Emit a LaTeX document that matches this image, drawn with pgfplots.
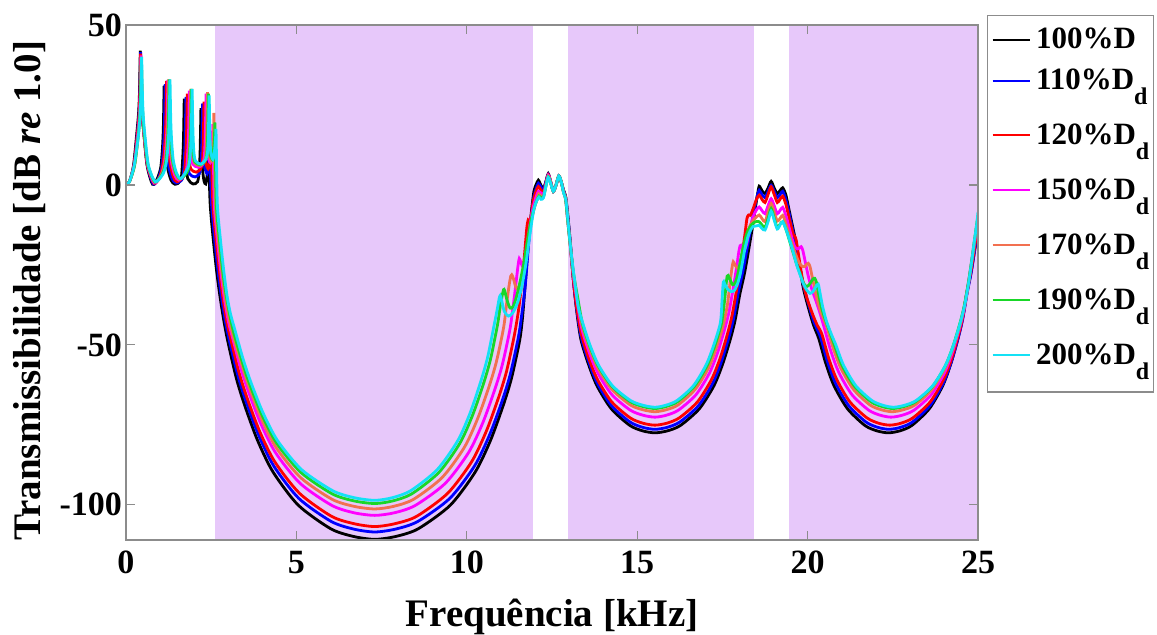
\documentclass[border=0pt]{standalone}
\usepackage{fontspec}
\setmainfont{Liberation Serif}
\usepackage{pgfplots}
\pgfplotsset{compat=1.18}
\definecolor{bandcol}{RGB}{231,200,250}
\definecolor{axgray}{RGB}{140,140,140}
\definecolor{cBlue}{RGB}{0,0,255}
\definecolor{cRed}{RGB}{255,0,0}
\definecolor{cMag}{RGB}{255,0,255}
\definecolor{cOra}{RGB}{242,112,80}
\definecolor{cGre}{RGB}{25,215,40}
\definecolor{cCya}{RGB}{20,225,245}
\newcommand{\dsub}{\raisebox{-7.5pt}{\fontsize{12}{12}\selectfont d}}
\begin{document}
\begin{tikzpicture}
\useasboundingbox (-63pt,-47.5pt) rectangle (515.5pt,270pt);
\begin{axis}[
  scale only axis, width=426pt, height=257.5pt,
  xmin=0, xmax=25, ymin=-111, ymax=50,
  xtick={0,5,10,15,20,25}, ytick={-100,-50,0,50},
  axis on top,
  tick align=inside, major tick length=4.5pt,
  axis line style={draw=axgray, line width=0.6pt},
  tick style={draw=axgray, line width=0.6pt},
  /pgf/number format/assume math mode=true,
  xticklabel style={font=\fontsize{17}{17}\selectfont\bfseries, yshift=-2pt},
  yticklabel style={font=\fontsize{17}{17}\selectfont\bfseries, xshift=1.5pt},
  xlabel={Frequência [kHz]},
  ylabel={Transmissibilidade [dB \textit{re} 1.0]},
  xlabel style={font=\fontsize{19.5}{20}\selectfont\bfseries, at={(axis description cs:0.5,-0.168)}, anchor=base},
  ylabel style={font=\fontsize{19.5}{20}\selectfont\bfseries, at={(axis description cs:-0.1,0.484)}, anchor=base},
  legend style={at={(rel axis cs:1,1)}, anchor=north west, xshift=4.5pt, yshift=5pt,
    draw=axgray, line width=0.6pt, fill=white,
    font=\fontsize{15.5}{15.5}\selectfont\bfseries,
    inner xsep=2pt, inner ysep=6.3pt, row sep=9.5pt,
    nodes={inner sep=0pt, text depth=}, cells={anchor=base west}},
  legend image code/.code={\draw[#1, line width=1pt] (0pt,4.6pt) -- (18.5pt,4.6pt); \path (21pt,0pt);},
  every axis plot/.append style={line width=1.4pt, no markers, smooth, tension=0.45},
]
\addplot[draw=none, fill=bandcol, forget plot, line width=0pt, sharp plot] coordinates {(2.6,-111) (11.95,-111) (11.95,50) (2.6,50)} -- cycle;
\addplot[draw=none, fill=bandcol, forget plot, line width=0pt, sharp plot] coordinates {(12.96,-111) (18.43,-111) (18.43,50) (12.96,50)} -- cycle;
\addplot[draw=none, fill=bandcol, forget plot, line width=0pt, sharp plot] coordinates {(19.44,-111) (25,-111) (25,50) (19.44,50)} -- cycle;

% 100% D (black)
\addplot[black] coordinates {
(0,0) (0.1,1) (0.22,6) (0.32,16.5) (0.37,22.5) (0.395,28.5) (0.41,36.5) (0.42,42) (0.43,36.5) (0.445,28.5) (0.47,22.5) (0.52,16.5) (0.62,6) (0.78,0.2)
(0.92,2) (1.02,5.5) (1.07,11.5) (1.095,17.5) (1.11,25.5) (1.12,31) (1.13,25.5) (1.145,17.5) (1.17,11.5) (1.22,5.5) (1.32,1.5) (1.44,0.2)
(1.61,1.5) (1.66,7.5) (1.685,13.5) (1.70,21.5) (1.71,27) (1.72,21.5) (1.735,13.5) (1.76,7.5) (1.81,2) (1.97,0.3)
(2.10,1) (2.15,4.5) (2.175,10.5) (2.19,18.5) (2.20,24) (2.21,18.5) (2.225,10.5) (2.25,4.5) (2.29,1.2) (2.34,0.3)
(2.38,3) (2.405,8) (2.42,12) (2.435,6) (2.47,-6) (2.56,-17) (2.66,-27) (2.76,-35) (2.88,-43) (3.0,-49.5) (3.237,-60.4) (3.476,-68.7) (3.858,-79.8) (4.312,-89.7) (5.053,-100.1) (6.009,-107.5) (6.679,-109.9) (7.3,-110.8) (7.914,-109.9) (8.574,-107.5) (9.518,-100.1) (10.25,-89.7) (10.698,-79.8) (11.076,-68.7) (11.312,-60.4) (11.548,-48.8) (11.63,-42) (11.70,-33) (11.80,-19) (11.90,-8) (11.97,-2) (12.03,0)
(12.1,1.5) (12.17,0) (12.25,-1.1) (12.32,1) (12.39,3.5) (12.46,1) (12.54,-2) (12.62,0) (12.70,2.8) (12.77,1) (12.84,-1.7) (12.90,-3.5)
(12.95,-8) (13.03,-17) (13.13,-30) (13.22,-39) (13.344,-48.1) (13.562,-55.8) (13.82,-62.8) (14.242,-70.0) (14.786,-75.2) (15.166,-76.9) (15.52,-77.5) (15.88,-76.9) (16.268,-75.2) (16.822,-70.0) (17.251,-62.8) (17.514,-55.8) (17.736,-48.1) (17.875,-42.2) (18.013,-34.1) (18.16,-27) (18.36,-14.6) (18.47,-7) (18.53,-3)
(18.58,-0.4) (18.66,-1.8) (18.75,-2.7) (18.84,-1) (18.93,1.1) (19.02,-1) (19.11,-2.7) (19.19,-1.8) (19.27,-0.9) (19.36,-3) (19.44,-7) (19.52,-11)
(19.6,-15) (19.68,-19.5) (19.78,-26) (19.87,-32) (20.0,-37.5) (20.17,-43.7) (20.33,-48.1) (20.534,-55.8) (20.776,-62.8) (21.172,-70.0) (21.682,-75.2) (22.039,-76.9) (22.37,-77.5) (22.702,-76.9) (23.059,-75.2) (23.569,-70.0) (23.964,-62.8) (24.206,-55.8) (24.41,-48.1) (24.538,-42.2) (24.665,-34.1) (24.8,-27) (24.9,-20.5) (25,-14)
};
\addlegendentry{100\%D}

% 110% Dd (blue)
\addplot[cBlue] coordinates {
(0,0) (0.1,1) (0.23,6) (0.33,16) (0.38,22) (0.405,28) (0.42,36) (0.43,41.5) (0.44,36) (0.455,28) (0.48,22) (0.53,16) (0.63,6) (0.8,0.3)
(0.95,2) (1.05,6) (1.10,12) (1.125,18) (1.14,26) (1.15,31.5) (1.16,26) (1.175,18) (1.20,12) (1.25,6) (1.35,2) (1.47,0.6)
(1.66,2) (1.71,8) (1.735,14) (1.75,22) (1.76,27.5) (1.77,22) (1.785,14) (1.81,8) (1.86,3.5) (2.03,2.5)
(2.15,3.5) (2.20,6) (2.225,12) (2.24,20) (2.25,25.5) (2.26,20) (2.275,12) (2.30,6) (2.38,3.5)
(2.42,6) (2.445,9) (2.46,12) (2.475,6) (2.51,-6) (2.60,-17) (2.70,-27) (2.80,-35) (2.92,-43) (3.04,-49) (3.271,-59.1) (3.508,-67.3) (3.887,-78.1) (4.338,-87.9) (5.072,-98.0) (6.02,-105.2) (6.684,-107.6) (7.3,-108.5) (7.908,-107.6) (8.564,-105.2) (9.5,-98.0) (10.225,-87.9) (10.67,-78.1) (11.044,-67.3) (11.278,-59.1) (11.512,-47.7) (11.6,-41.5) (11.71,-32) (11.81,-19) (11.9,-9) (11.97,-3.5) (12.04,-1)
(12.1,0.5) (12.17,-0.5) (12.25,-1.5) (12.32,1) (12.39,3.3) (12.46,1) (12.54,-2) (12.62,0) (12.70,2.8) (12.77,1) (12.84,-1.8) (12.9,-3.8)
(12.95,-8.5) (13.03,-17.5) (13.13,-30) (13.22,-38.5) (13.352,-47.4) (13.569,-55.0) (13.826,-61.9) (14.246,-69.0) (14.788,-74.1) (15.168,-75.8) (15.52,-76.4) (15.874,-75.8) (16.254,-74.1) (16.798,-69.0) (17.22,-61.9) (17.478,-55.0) (17.696,-47.4) (17.832,-41.6) (17.968,-33.6) (18.12,-26) (18.3,-15.5) (18.44,-7.5) (18.52,-3.5)
(18.58,-1.7) (18.66,-3) (18.75,-4) (18.84,-2) (18.93,-0.1) (19.02,-2) (19.11,-4) (19.19,-3) (19.27,-2) (19.36,-4.5) (19.44,-8) (19.52,-12)
(19.6,-16) (19.68,-20) (19.78,-26) (19.88,-31.5) (20.02,-37) (20.19,-43) (20.374,-47.4) (20.576,-55.0) (20.815,-61.9) (21.206,-69.0) (21.71,-74.1) (22.062,-75.8) (22.39,-76.4) (22.722,-75.8) (23.079,-74.1) (23.589,-69.0) (23.984,-61.9) (24.226,-55.0) (24.43,-47.4) (24.558,-41.6) (24.685,-33.6) (24.8,-27.5) (24.9,-20.5) (25,-13.5)
};
\addlegendentry{110\%D\dsub}

% 120% Dd (red)
\addplot[cRed] coordinates {
(0,0) (0.1,1) (0.23,6) (0.33,15.5) (0.38,21.5) (0.405,27.5) (0.42,35.5) (0.43,41) (0.44,35.5) (0.455,27.5) (0.48,21.5) (0.53,15.5) (0.63,6) (0.82,0.5)
(0.99,2.5) (1.09,7) (1.14,13) (1.165,19) (1.18,27) (1.19,32.5) (1.20,27) (1.215,19) (1.24,13) (1.29,7) (1.39,2.5) (1.5,1)
(1.70,3) (1.75,9) (1.775,15) (1.79,23) (1.80,28.5) (1.81,23) (1.825,15) (1.85,9) (1.9,5) (2.06,4)
(2.19,5) (2.24,7) (2.265,12.5) (2.28,20.5) (2.29,26) (2.30,20.5) (2.315,12.5) (2.34,7) (2.41,5)
(2.45,7) (2.475,9.5) (2.49,12) (2.50,15) (2.51,9) (2.55,-6) (2.64,-17) (2.74,-27) (2.84,-35) (2.96,-43) (3.08,-48.5) (3.305,-58.2) (3.54,-66.2) (3.916,-76.9) (4.363,-86.5) (5.091,-96.4) (6.031,-103.6) (6.689,-105.9) (7.3,-106.8) (7.892,-105.9) (8.529,-103.6) (9.439,-96.4) (10.144,-86.5) (10.576,-76.9) (10.94,-66.2) (11.168,-58.2) (11.395,-47.0) (11.52,-39) (11.62,-30) (11.70,-21) (11.76,-13.5) (11.80,-11) (11.84,-11.5) (11.89,-9.5) (11.95,-5) (12.03,-2)
(12.1,-0.5) (12.17,-1.5) (12.25,-2.5) (12.32,0.5) (12.39,3.2) (12.46,1) (12.54,-2) (12.62,0) (12.70,2.8) (12.77,1) (12.84,-2) (12.9,-4)
(12.95,-9) (13.03,-18) (13.13,-30) (13.22,-38) (13.36,-46.6) (13.576,-54.1) (13.833,-60.8) (14.251,-67.8) (14.791,-72.8) (15.169,-74.5) (15.52,-75.1) (15.866,-74.5) (16.238,-72.8) (16.77,-67.8) (17.183,-60.8) (17.435,-54.1) (17.648,-46.6) (17.781,-40.9) (17.914,-33.0) (18.05,-24) (18.16,-15.5) (18.22,-10.5) (18.27,-9.4) (18.32,-9.5) (18.4,-7.5) (18.5,-4.5)
(18.58,-3.2) (18.66,-4.5) (18.75,-5.5) (18.84,-3) (18.93,-0.6) (19.02,-3) (19.11,-5.5) (19.19,-4.5) (19.27,-3.5) (19.36,-6) (19.44,-9.5) (19.52,-13)
(19.58,-15.5) (19.63,-16.2) (19.67,-17.5) (19.75,-23) (19.85,-29.5) (19.97,-35) (20.15,-40.5) (20.28,-43.8) (20.418,-46.6) (20.617,-54.1) (20.854,-60.8) (21.24,-67.8) (21.738,-72.8) (22.086,-74.5) (22.41,-75.1) (22.739,-74.5) (23.093,-72.8) (23.599,-67.8) (23.991,-60.8) (24.232,-54.1) (24.434,-46.6) (24.561,-40.9) (24.687,-33.0) (24.8,-26.5) (24.9,-19.5) (25,-12.5)
};
\addlegendentry{120\%D\dsub}

% 150% Dd (magenta)
\addplot[cMag] coordinates {
(0,0) (0.1,1) (0.24,6) (0.34,15) (0.39,21) (0.415,27) (0.43,35) (0.44,40.5) (0.45,35) (0.465,27) (0.49,21) (0.54,15) (0.64,6) (0.83,0.6)
(1.03,3) (1.13,7.3) (1.18,13.3) (1.205,19.3) (1.22,27.3) (1.23,32.8) (1.24,27.3) (1.255,19.3) (1.28,13.3) (1.33,7.3) (1.43,3) (1.55,1.5)
(1.76,4) (1.81,10) (1.835,16) (1.85,24) (1.86,29.5) (1.87,24) (1.885,16) (1.91,10) (1.96,6.5) (2.12,5.5)
(2.25,6.5) (2.30,9) (2.325,15) (2.34,23) (2.35,28.5) (2.36,23) (2.375,15) (2.40,9) (2.47,7)
(2.50,9) (2.525,13) (2.54,16) (2.55,19) (2.56,13) (2.59,-6) (2.68,-17) (2.78,-27) (2.88,-35) (3.0,-42.5) (3.12,-47.5) (3.339,-56.3) (3.572,-64.0) (3.945,-74.4) (4.388,-83.7) (5.11,-93.3) (6.042,-100.2) (6.694,-102.5) (7.3,-103.3) (7.872,-102.5) (8.488,-100.2) (9.368,-93.3) (10.05,-83.7) (10.468,-74.4) (10.82,-64.0) (11.04,-56.3) (11.26,-45.5) (11.36,-38) (11.44,-31) (11.50,-25.5) (11.54,-23) (11.58,-24) (11.64,-25.5) (11.70,-23.5) (11.76,-19) (11.83,-14) (11.9,-9.5) (11.97,-6) (12.04,-3.5)
(12.1,-2) (12.17,-2.5) (12.25,-3) (12.32,0) (12.39,3) (12.46,1) (12.54,-2) (12.62,0) (12.70,2.8) (12.77,1) (12.84,-2.2) (12.9,-4.2)
(12.95,-10) (13.04,-19) (13.13,-28.5) (13.23,-36) (13.376,-45.0) (13.59,-52.3) (13.845,-58.8) (14.26,-65.6) (14.796,-70.4) (15.172,-72.0) (15.52,-72.6) (15.853,-72.0) (16.211,-70.4) (16.723,-65.6) (17.12,-58.8) (17.363,-52.3) (17.568,-45.0) (17.696,-39.6) (17.824,-31.9) (17.92,-25.5) (17.98,-21) (18.02,-19) (18.06,-18.8) (18.1,-19.8) (18.15,-20.3) (18.21,-18.5) (18.3,-14) (18.4,-10) (18.5,-7.8)
(18.58,-6.9) (18.66,-8) (18.75,-9) (18.84,-6.5) (18.93,-4.3) (19.02,-6.5) (19.11,-9) (19.19,-8) (19.27,-7) (19.36,-9.5) (19.45,-13) (19.55,-17) (19.63,-19.5) (19.70,-20) (19.75,-19.8) (19.81,-19.3) (19.86,-20.5) (19.93,-24) (20.02,-28.5) (20.12,-32.5) (20.254,-36.5) (20.376,-40.5) (20.498,-45.0) (20.693,-52.3) (20.925,-58.8) (21.303,-65.6) (21.791,-70.4) (22.133,-72.0) (22.45,-72.6) (22.775,-72.0) (23.125,-70.4) (23.625,-65.6) (24.013,-58.8) (24.25,-52.3) (24.45,-45.0) (24.575,-39.6) (24.7,-31.9) (24.8,-25) (24.9,-18) (25,-11)
};
\addlegendentry{150\%D\dsub}

% 170% Dd (orange)
\addplot[cOra] coordinates {
(0,0) (0.1,1) (0.25,6) (0.35,14.5) (0.40,20.5) (0.425,26.5) (0.44,34.5) (0.45,40) (0.46,34.5) (0.475,26.5) (0.50,20.5) (0.55,14.5) (0.65,6) (0.84,0.8)
(1.05,3.5) (1.15,7.5) (1.20,13.5) (1.225,19.5) (1.24,27.5) (1.25,33) (1.26,27.5) (1.275,19.5) (1.30,13.5) (1.35,7.5) (1.45,3.5) (1.58,1.8)
(1.80,4.5) (1.85,10.5) (1.875,16.5) (1.89,24.5) (1.90,30) (1.91,24.5) (1.925,16.5) (1.95,10.5) (2.0,7) (2.16,6)
(2.29,7) (2.34,9.5) (2.365,15.5) (2.38,23.5) (2.39,29) (2.40,23.5) (2.415,15.5) (2.44,9.5) (2.50,7.5)
(2.53,10) (2.555,14) (2.57,17) (2.58,22.5) (2.59,15) (2.62,-6) (2.71,-17) (2.81,-27) (2.91,-35) (3.03,-42) (3.15,-47.5) (3.365,-55.2) (3.596,-62.8) (3.966,-72.9) (4.406,-82.1) (5.124,-91.5) (6.05,-98.3) (6.698,-100.5) (7.3,-101.3) (7.846,-100.5) (8.434,-98.3) (9.274,-91.5) (9.925,-82.1) (10.324,-72.9) (10.66,-62.8) (10.87,-55.2) (11.08,-44.6) (11.17,-37) (11.24,-31.5) (11.29,-28.5) (11.32,-28.1) (11.36,-29) (11.44,-32) (11.50,-32.5) (11.58,-30) (11.67,-26) (11.76,-20) (11.84,-14.5) (11.92,-10) (12.0,-6.5) (12.06,-4.5)
(12.11,-2.8) (12.18,-3.5) (12.25,-3.5) (12.32,-0.3) (12.39,2.7) (12.46,0.8) (12.54,-2) (12.62,0) (12.70,2.8) (12.77,1) (12.84,-2.3) (12.9,-4.4)
(12.96,-11) (13.04,-19.5) (13.13,-28) (13.24,-35.5) (13.384,-44.0) (13.598,-51.0) (13.851,-57.4) (14.265,-64.0) (14.799,-68.8) (15.173,-70.3) (15.52,-70.9) (15.845,-70.3) (16.195,-68.8) (16.695,-64.0) (17.083,-57.4) (17.32,-51.0) (17.52,-44.0) (17.645,-37.6) (17.72,-31) (17.78,-26) (17.82,-24) (17.86,-24.8) (17.93,-26) (17.99,-26.1) (18.06,-24) (18.14,-19.5) (18.22,-15.5) (18.32,-12.5) (18.45,-10.5)
(18.58,-9.4) (18.66,-10.5) (18.75,-11.5) (18.84,-8.5) (18.93,-5.8) (19.02,-8.5) (19.11,-11.3) (19.19,-10.5) (19.27,-9.5) (19.36,-12) (19.46,-15.5) (19.56,-19) (19.66,-22) (19.76,-24.5) (19.85,-25.5) (19.92,-25.5) (19.97,-24.8) (20.02,-24.5) (20.07,-25.5) (20.14,-29) (20.24,-34) (20.38,-39.5) (20.56,-44.3) (20.752,-51.0) (20.98,-57.4) (21.352,-64.0) (21.832,-68.8) (22.168,-70.3) (22.48,-70.9) (22.802,-70.3) (23.15,-68.8) (23.646,-64.0) (24.03,-57.4) (24.266,-51.0) (24.464,-44.0) (24.588,-38.6) (24.712,-31.2) (24.81,-24.5) (24.9,-17.5) (25,-10)
};
\addlegendentry{170\%D\dsub}

% 190% Dd (green)
\addplot[cGre] coordinates {
(0,0) (0.1,1) (0.25,6) (0.35,14.5) (0.40,20.5) (0.425,26.5) (0.44,34.5) (0.45,40) (0.46,34.5) (0.475,26.5) (0.50,20.5) (0.55,14.5) (0.65,6) (0.85,0.9)
(1.07,3.5) (1.17,7.5) (1.22,13.5) (1.245,19.5) (1.26,27.5) (1.27,33) (1.28,27.5) (1.295,19.5) (1.32,13.5) (1.37,7.5) (1.47,3.5) (1.60,2)
(1.82,4.5) (1.87,10.5) (1.895,16.5) (1.91,24.5) (1.92,30) (1.93,24.5) (1.945,16.5) (1.97,10.5) (2.02,7.2) (2.18,6.3)
(2.32,7.5) (2.37,9.5) (2.395,15) (2.41,23) (2.42,28.5) (2.43,23) (2.445,15) (2.47,9.5) (2.53,8)
(2.56,10) (2.585,13) (2.60,16) (2.61,19.5) (2.62,13) (2.65,-6) (2.74,-17) (2.84,-27) (2.94,-34.5) (3.06,-41.5) (3.17,-46.5) (3.382,-54.3) (3.612,-61.8) (3.981,-71.7) (4.419,-80.7) (5.133,-89.9) (6.055,-96.6) (6.701,-98.8) (7.3,-99.6) (7.82,-98.8) (8.38,-96.6) (9.18,-89.9) (9.8,-80.7) (10.18,-71.7) (10.5,-61.8) (10.7,-54.3) (10.9,-43.8) (10.98,-38) (11.04,-34.5) (11.08,-32.7) (11.11,-33) (11.18,-36) (11.27,-38.5) (11.36,-38) (11.47,-34.5) (11.58,-29.5) (11.68,-24) (11.77,-18) (11.85,-13) (11.93,-9) (12.01,-6) (12.07,-4.5)
(12.12,-3.5) (12.18,-4) (12.25,-3.8) (12.32,-0.4) (12.39,2.5) (12.46,0.6) (12.54,-2) (12.62,0) (12.70,2.8) (12.77,1) (12.84,-2.4) (12.9,-4.6)
(12.97,-12) (13.05,-20) (13.13,-27.5) (13.25,-35) (13.392,-43.3) (13.605,-50.3) (13.858,-56.6) (14.27,-63.1) (14.802,-67.8) (15.174,-69.3) (15.52,-69.9) (15.837,-69.3) (16.179,-67.8) (16.667,-63.1) (17.045,-56.6) (17.277,-50.3) (17.472,-43.3) (17.56,-36.5) (17.61,-31) (17.64,-28.5) (17.67,-28.3) (17.72,-29.5) (17.8,-31.2) (17.88,-30.5) (17.96,-27.5) (18.05,-22.5) (18.14,-18) (18.24,-14.5) (18.35,-12.5) (18.47,-11.5)
(18.58,-11.5) (18.66,-12.5) (18.75,-13.3) (18.84,-10.5) (18.93,-7.4) (19.02,-10.5) (19.11,-13.3) (19.19,-12.3) (19.27,-11.5) (19.37,-14) (19.47,-17.5) (19.57,-21) (19.67,-24.5) (19.77,-27.5) (19.87,-30.5) (19.97,-31.8) (20.06,-31) (20.15,-29.5) (20.21,-29.2) (20.26,-30.5) (20.32,-34) (20.4,-38) (20.5,-41.5) (20.604,-44.5) (20.794,-50.3) (21.019,-56.6) (21.386,-63.1) (21.86,-67.8) (22.192,-69.3) (22.5,-69.9) (22.82,-69.3) (23.164,-67.8) (23.656,-63.1) (24.038,-56.6) (24.271,-50.3) (24.468,-43.3) (24.591,-38.1) (24.714,-30.8) (24.81,-24) (24.9,-17) (25,-9.5)
};
\addlegendentry{190\%D\dsub}

% 200% Dd (cyan)
\addplot[cCya] coordinates {
(0,0) (0.1,1) (0.24,6) (0.36,15) (0.41,21) (0.435,27) (0.45,34.5) (0.46,40) (0.47,34.5) (0.485,27) (0.51,21) (0.56,15) (0.66,6) (0.86,1)
(1.09,3.5) (1.19,7.5) (1.24,13.5) (1.265,19.5) (1.28,27.5) (1.29,33) (1.30,27.5) (1.315,19.5) (1.34,13.5) (1.39,7.5) (1.49,3.5) (1.62,2)
(1.84,6) (1.89,10.5) (1.915,16.5) (1.93,24.5) (1.94,30) (1.95,24.5) (1.965,16.5) (1.99,10.5) (2.04,7.5) (2.2,6.5)
(2.34,8) (2.39,10) (2.415,14.5) (2.43,22.5) (2.44,28) (2.45,22.5) (2.465,14.5) (2.49,10) (2.55,8)
(2.59,10) (2.615,12.5) (2.63,15) (2.64,17.5) (2.65,12) (2.68,-6) (2.77,-17) (2.87,-27) (2.97,-35) (3.07,-40.5) (3.187,-45) (3.415,-53.7) (3.644,-61.1) (4.01,-71.0) (4.444,-79.9) (5.152,-89.0) (6.066,-95.6) (6.706,-97.8) (7.3,-98.6) (7.807,-97.8) (8.353,-95.6) (9.133,-89.0) (9.738,-79.9) (10.108,-71.0) (10.42,-61.1) (10.615,-53.7) (10.81,-43.4) (10.9,-38.5) (10.95,-35.5) (10.98,-34.6) (11.02,-36) (11.1,-39.5) (11.22,-41) (11.35,-40) (11.5,-36.5) (11.62,-31.5) (11.73,-25) (11.82,-18) (11.9,-12) (11.97,-7.5) (12.05,-5)
(12.12,-3.8) (12.18,-4.5) (12.25,-4) (12.32,-0.5) (12.39,2.4) (12.46,0.5) (12.54,-2) (12.62,0) (12.70,2.8) (12.77,1) (12.84,-2.5) (12.91,-5)
(12.98,-12.6) (13.05,-20) (13.13,-27.1) (13.268,-37.9) (13.4,-43.1) (13.612,-50.0) (13.864,-56.3) (14.275,-62.8) (14.805,-67.4) (15.176,-68.9) (15.52,-69.5) (15.832,-68.9) (16.168,-67.4) (16.648,-62.8) (17.02,-56.3) (17.248,-50.0) (17.44,-43.1) (17.49,-36) (17.52,-31) (17.54,-30.2) (17.57,-31) (17.65,-32.5) (17.75,-33.3) (17.85,-33) (17.94,-31) (18.02,-28) (18.1,-23.5) (18.16,-20) (18.24,-16.5) (18.31,-14.5) (18.4,-13) (18.5,-12.8)
(18.58,-12.6) (18.66,-13.6) (18.75,-14.1) (18.84,-11.5) (18.93,-8.2) (19.02,-11) (19.11,-13.8) (19.19,-12.5) (19.27,-11.5) (19.37,-14) (19.48,-17.5) (19.58,-21) (19.68,-25) (19.78,-28.1) (19.88,-31) (19.97,-32.8) (20.07,-33.9) (20.16,-33.3) (20.24,-31.8) (20.31,-31) (20.36,-33.5) (20.44,-38) (20.55,-42.5) (20.69,-46.5) (20.828,-50) (21.051,-56.3) (21.416,-62.8) (21.886,-67.4) (22.215,-68.9) (22.52,-69.5) (22.839,-68.9) (23.182,-67.4) (23.672,-62.8) (24.051,-56.3) (24.284,-50.0) (24.48,-43.1) (24.603,-37.9) (24.725,-30.6) (24.82,-23.5) (24.9,-17) (24.96,-12.5) (25,-8.5)
};
\addlegendentry{200\%D\dsub}
\end{axis}
\end{tikzpicture}
\end{document}
